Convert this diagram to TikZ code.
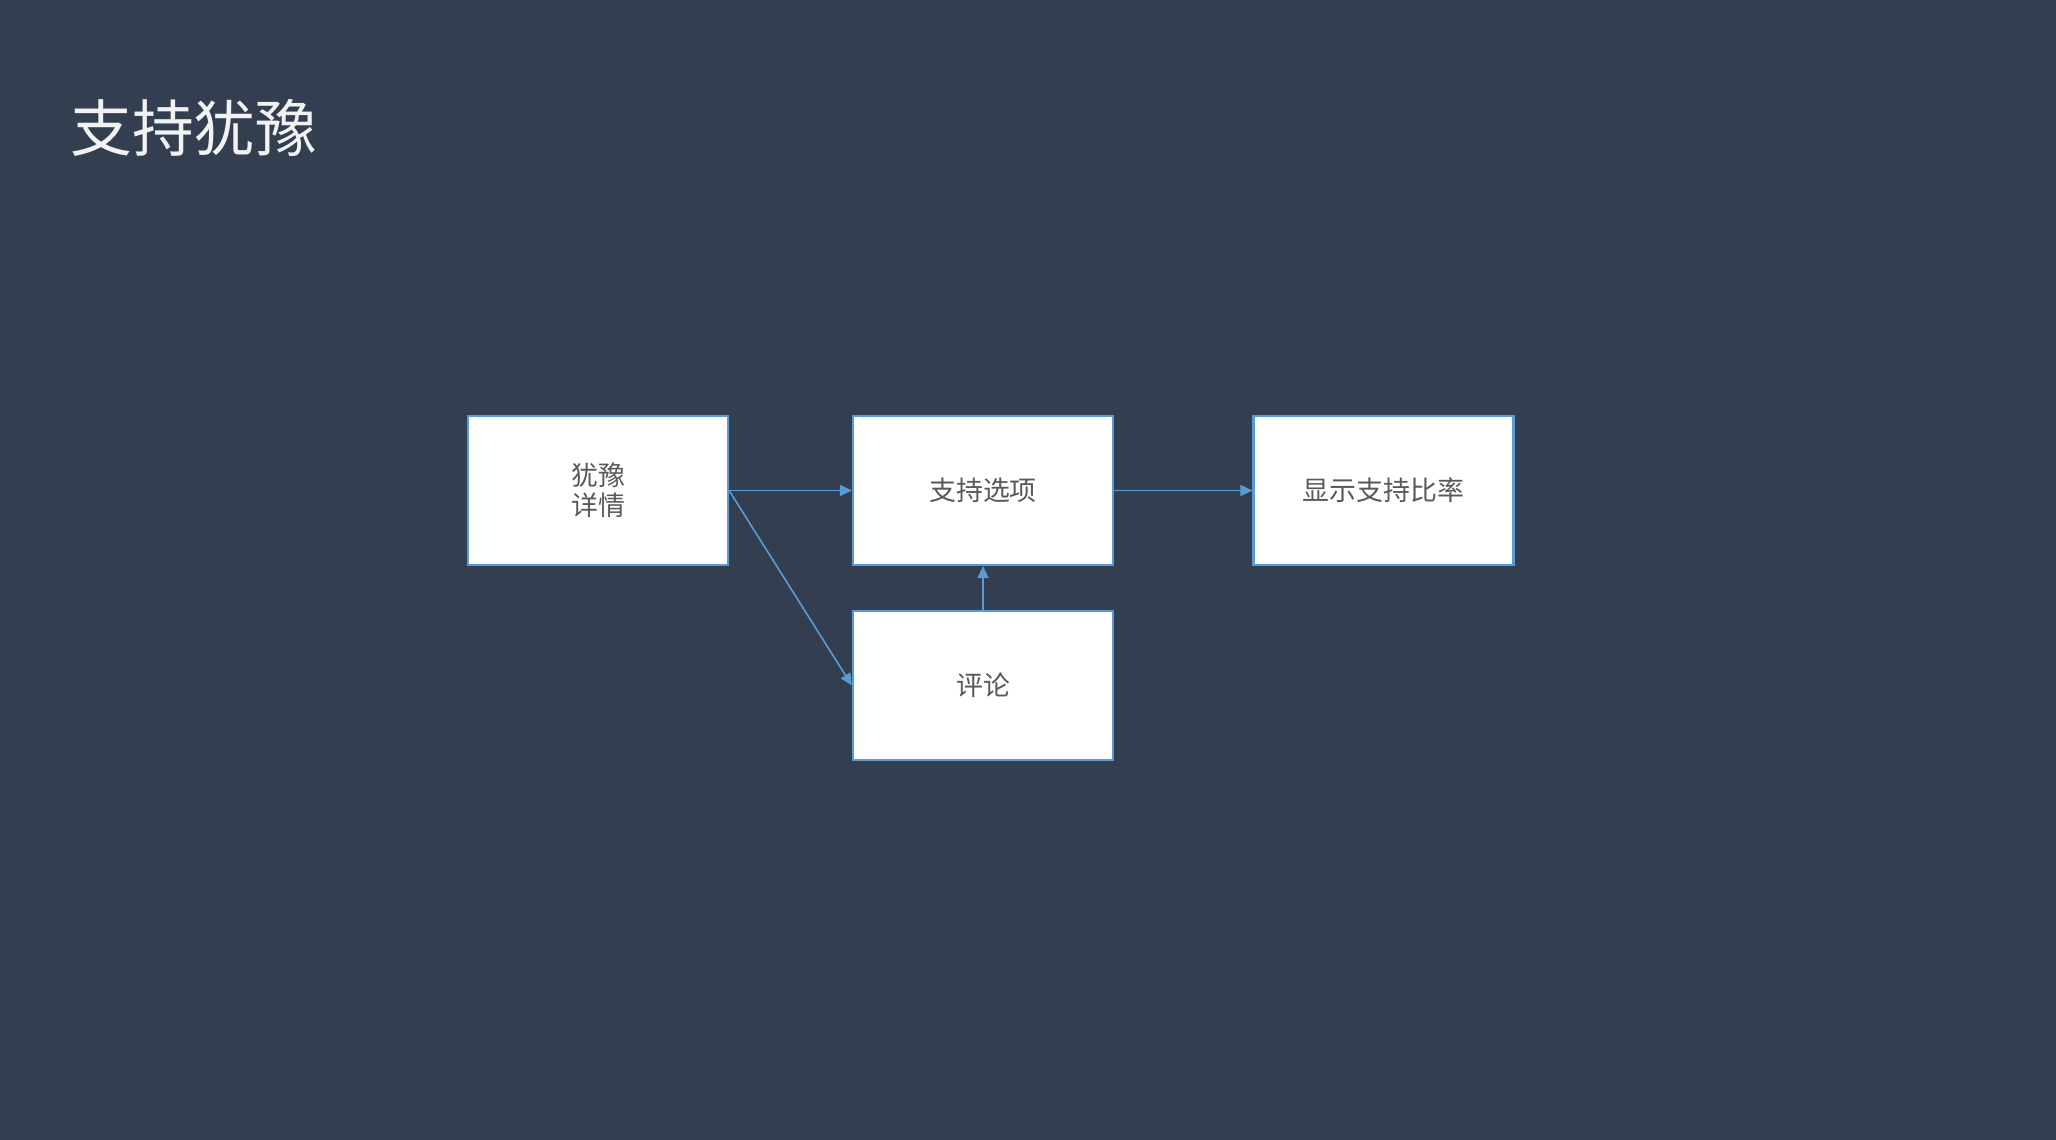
\documentclass[tikz,border=0pt]{standalone}
\usepackage{fontspec}
\setmainfont{Noto Sans CJK SC}
\usetikzlibrary{arrows.meta}
\definecolor{bg}{RGB}{51,62,80}
\definecolor{edge}{RGB}{91,155,213}
\definecolor{ink}{RGB}{89,89,89}
\definecolor{titleink}{RGB}{242,242,242}
\begin{document}
\begin{tikzpicture}[x=0.5bp,y=-0.5bp,
  box/.style={draw=edge,line width=1.1bp,fill=white,minimum width=130bp,minimum height=74.5bp,
    inner sep=0pt,text=ink,font=\fontsize{13.5}{15}\selectfont,align=center},
  flow/.style={draw=edge,line width=0.8bp,-{Triangle[length=6bp,width=5.5bp]}}]
  \fill[bg] (0,0) rectangle (2056,1140);
  \useasboundingbox (0,0) rectangle (2056,1140);
  \node[anchor=west,text=titleink,font=\fontsize{31}{34}\selectfont,inner sep=0pt] (title) at (70,128) {支持犹豫};
  \node[box] (detail) at (598,490.5) {犹豫\\详情};
  \node[box] (option) at (983,490.5) {支持选项};
  \node[box] (ratio) at (1383.5,490.5) {显示支持比率};
  \node[box] (comment) at (983,685.5) {评论};
  \draw[flow] (detail.east) -- (option.west);
  \draw[flow] (detail.east) -- (comment.west);
  \draw[flow] (comment.north) -- (option.south);
  \draw[flow] (option.east) -- (ratio.west);
\end{tikzpicture}
\end{document}
